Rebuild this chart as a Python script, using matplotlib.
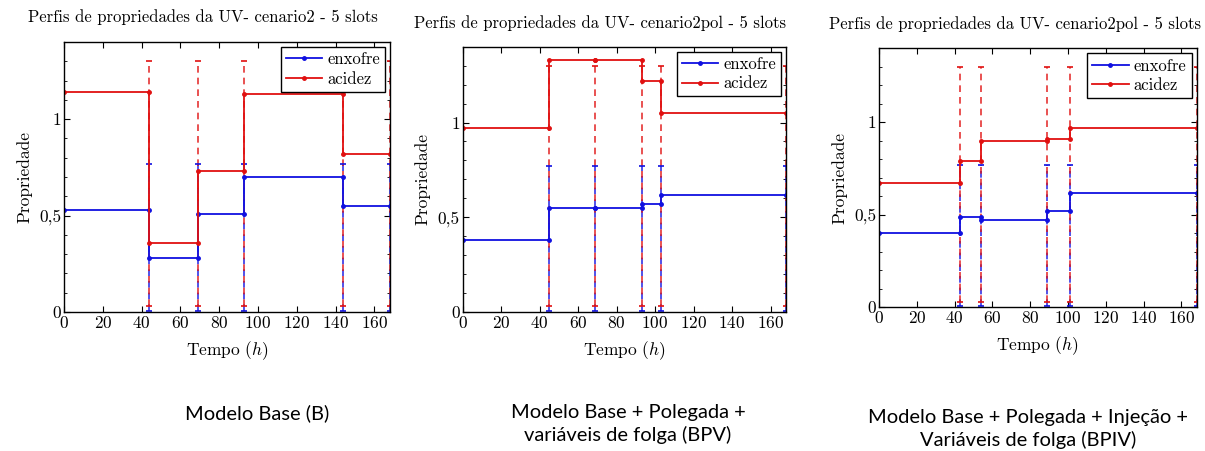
import matplotlib
matplotlib.use("Agg")
import matplotlib.pyplot as plt
from matplotlib.ticker import MultipleLocator, FuncFormatter

plt.rcParams['font.family'] = ['cmr10', 'DejaVu Serif']
plt.rcParams['mathtext.fontset'] = 'cm'
plt.rcParams['axes.formatter.use_mathtext'] = True

# tempos de inicio/fim de cada slot (h) e propriedades por slot
t_b = [0, 44, 69, 93, 144, 168]
enxofre_b = [0.53, 0.28, 0.51, 0.70, 0.55]
acidez_b = [1.14, 0.36, 0.73, 1.13, 0.82]

t_bpv = [0, 45, 69, 93, 103, 168]
enxofre_bpv = [0.38, 0.55, 0.55, 0.57, 0.62]
acidez_bpv = [0.97, 1.33, 1.33, 1.22, 1.05]

t_bpiv = [0, 43, 54, 89, 101, 168]
enxofre_bpiv = [0.40, 0.49, 0.47, 0.52, 0.62]
acidez_bpiv = [0.67, 0.79, 0.90, 0.91, 0.97]

# limites das propriedades (linhas tracejadas)
lim_enx = [0.005, 0.77]
lim_aci = [0.03, 1.30]

titles = ['Perfis de propriedades da UV- cenario2 - 5 slots',
          'Perfis de propriedades da UV- cenario2pol - 5 slots',
          'Perfis de propriedades da UV- cenario2pol - 5 slots']
captions = ['Modelo Base (B)',
            'Modelo Base + Polegada +\nvariáveis de folga (BPV)',
            'Modelo Base + Polegada + Injeção +\nVariáveis de folga (BPIV)']

BLUE = '#1010e0'
RED = '#e01010'


def steps(t, v):
    xs, ys = [], []
    for i in range(len(v)):
        xs += [t[i], t[i+1]]
        ys += [v[i], v[i]]
    return xs, ys


fig = plt.figure(figsize=(12.05, 4.51), dpi=100)
W, H = 1205, 451
boxes = [(64, 390, 42, 312), (462.5, 786, 46.7, 312), (879, 1196.5, 48.3, 307.3)]
title_pos = [(203, 17), (600, 23), (1015, 24)]
cap_pos = [(257, 413), (628, 424), (1028, 429)]
data = [(t_b, enxofre_b, acidez_b), (t_bpv, enxofre_bpv, acidez_bpv),
        (t_bpiv, enxofre_bpiv, acidez_bpiv)]

for k in range(3):
    l, r, tp, bt = boxes[k]
    ax = fig.add_axes([l/W, 1-bt/H, (r-l)/W, (bt-tp)/H])
    t, enx, aci = data[k]

    for tb in t[1:]:
        ax.vlines(tb, lim_enx[0], lim_enx[1], colors=BLUE, linestyles=(0, (4, 3)), lw=1.2, alpha=0.85)
        ax.vlines(tb, lim_aci[0], lim_aci[1], colors=RED, linestyles=(0, (4, 3)), lw=1.2, alpha=0.85)
        ax.plot([tb, tb], lim_enx, ls='none', marker='_', ms=5, mew=1.2, color=BLUE)
        ax.plot([tb, tb], lim_aci, ls='none', marker='_', ms=5, mew=1.2, color=RED)

    xs, ys = steps(t, enx)
    ax.plot(xs, ys, '-', color=BLUE, lw=1.3, marker='o', ms=2.5, label='enxofre')
    xs, ys = steps(t, aci)
    ax.plot(xs, ys, '-', color=RED, lw=1.3, marker='o', ms=2.5, label='acidez')

    ax.set_xlim(0, 168)
    ax.set_ylim(0, 1.4)
    ax.xaxis.set_major_locator(MultipleLocator(20))
    ax.yaxis.set_major_locator(MultipleLocator(0.5))
    ax.yaxis.set_minor_locator(MultipleLocator(0.1))
    ax.yaxis.set_major_formatter(FuncFormatter(lambda v, p: ('%g' % v).replace('.', ',')))
    ax.tick_params(which='both', direction='in', top=True, right=True, labelsize=12.5, pad=2)
    ax.tick_params(which='major', length=4, width=0.8)
    ax.tick_params(which='minor', length=2.5, width=0.6)
    for s in ax.spines.values():
        s.set_linewidth(1.0)
    ax.set_xlabel('Tempo ($h$)', fontsize=12.5, labelpad=6)
    ax.set_ylabel('Propriedade', fontsize=12.5, labelpad=5)

    leg = ax.legend(loc='upper right', fontsize=12, fancybox=False, framealpha=1,
                    edgecolor='black', handlelength=2.2, borderaxespad=0.3,
                    handletextpad=0.3, borderpad=0.3, labelspacing=0.25)
    leg.get_frame().set_linewidth(1.0)

    fig.text(title_pos[k][0]/W, 1-title_pos[k][1]/H, titles[k], fontsize=12,
             ha='center', va='center')
    fig.text(cap_pos[k][0]/W, 1-cap_pos[k][1]/H, captions[k], fontsize=14.5,
             family='Lato', ha='center', va='center', linespacing=1.3)

fig.savefig('out.png', dpi=100)
